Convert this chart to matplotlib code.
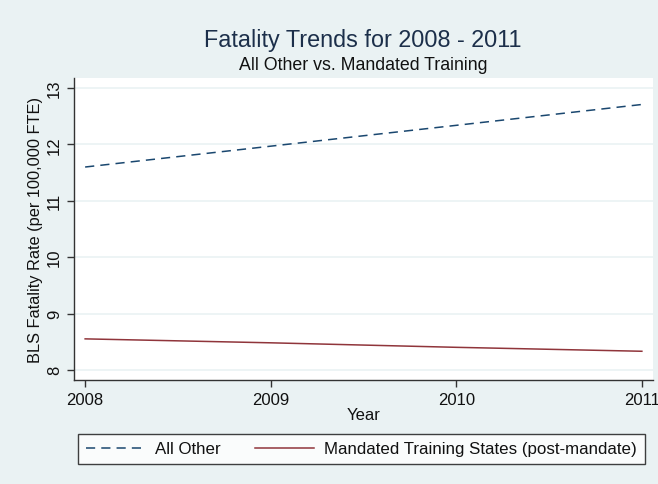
import matplotlib.pyplot as plt

plt.rcParams['font.family'] = ['Liberation Sans', 'DejaVu Sans']

# data
years = [2008, 2009, 2010, 2011]
all_other = [11.60, 11.97, 12.34, 12.71]
mandated = [8.55, 8.48, 8.40, 8.33]
y_ticks = [8, 9, 10, 11, 12, 13]

bg = '#eaf2f3'
navy = '#1a476f'
maroon = '#90353b'
text_col = '#1c2f4a'

fig = plt.figure(figsize=(6.58, 4.85), dpi=100, facecolor=bg)
ax = fig.add_axes([74 / 658, 1 - 381 / 485, 579 / 658, 302 / 485])
ax.set_facecolor('white')

ax.plot(years, all_other, color=navy, linestyle=(0, (6, 4)), linewidth=1.1,
        label='All Other')
ax.plot(years, mandated, color=maroon, linestyle='-', linewidth=1.1,
        label='Mandated Training States (post-mandate)')

ax.set_xlim(2007.94, 2011.06)
ax.set_ylim(7.82, 13.18)
ax.set_xticks(years)
ax.set_yticks(y_ticks)
ax.grid(axis='y', color=bg, linewidth=1.2)
ax.set_axisbelow(True)

for s in ['top', 'right']:
    ax.spines[s].set_visible(False)
for s in ['left', 'bottom']:
    ax.spines[s].set_color('#333333')
    ax.spines[s].set_linewidth(1.0)

ax.tick_params(axis='both', direction='out', length=5, width=1, color='#333333',
               labelsize=12, labelcolor='#111111')
for lbl in ax.get_yticklabels():
    lbl.set_rotation(90)
    lbl.set_va('center')

ax.set_xlabel('Year', fontsize=12, color='#111111', labelpad=0)
ax.set_ylabel('BLS Fatality Rate (per 100,000 FTE)', fontsize=11.8,
              color='#111111', labelpad=3)

fig.text(363 / 658, 1 - 40 / 485, 'Fatality Trends for 2008 - 2011',
         ha='center', va='center', fontsize=16.8, color=text_col)
fig.text(363 / 658, 1 - 65 / 485, 'All Other vs. Mandated Training',
         ha='center', va='center', fontsize=12.8, color='#111111')

leg = fig.legend(loc='center', ncol=2,
                 bbox_to_anchor=(361.5 / 658, 1 - 450 / 485),
                 fontsize=12.2, frameon=True, fancybox=False, handlelength=3.5,
                 handletextpad=0.6, columnspacing=2.0, borderpad=0.45,
                 borderaxespad=0)
leg.get_frame().set_edgecolor('#111111')
leg.get_frame().set_linewidth(1.0)
for t in leg.get_texts():
    t.set_color('#111111')

fig.savefig('out.png', dpi=100, facecolor=bg)
